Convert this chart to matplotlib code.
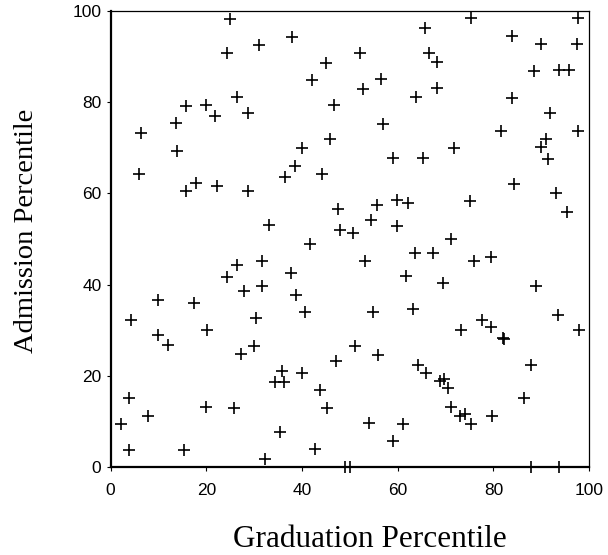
import matplotlib
matplotlib.use("Agg")
import matplotlib.pyplot as plt

# graduation percentile (x) and admission percentile (y)
grad = [24.9, 38.0, 31.0, 24.4, 44.9, 42.0, 26.5, 15.7, 19.9, 46.6, 21.9, 28.6, 13.6, 6.4,
        45.9, 39.9, 13.9, 38.6, 5.9, 36.5, 44.1, 17.8, 15.7, 22.2, 28.6, 47.6, 33.0, 47.9,
        75.4, 97.7, 65.6, 83.9, 89.9, 97.4, 52.1, 66.5, 68.1, 88.5, 93.8, 95.8, 56.6, 52.7,
        68.1, 63.9, 83.9, 91.8, 56.9, 81.5, 97.7, 91.0, 89.9, 71.7, 59.0, 65.3, 91.5, 84.2,
        93.0, 95.4, 75.0, 59.8, 62.1, 55.6, 54.5, 59.8, 50.6, 71.2,
        41.7, 31.6, 26.5, 24.4, 37.6, 31.6, 27.9, 38.7, 9.8, 17.5, 40.7, 4.2, 30.3, 20.1,
        9.8, 11.9, 29.9, 27.2, 47.0, 35.8, 40.0, 34.3, 36.2, 43.8, 3.9, 19.9, 25.8, 45.2,
        7.7, 2.2, 35.4, 3.9, 15.4, 42.8, 32.3,
        63.6, 67.4, 53.1, 75.9, 79.5, 61.8, 69.4, 88.8, 54.8, 63.2, 93.4, 77.7, 79.5, 73.3,
        97.8, 82.0, 82.2, 51.1, 55.9, 64.2, 66.0, 87.8, 68.8, 69.7, 70.5, 86.4, 71.2, 73.1,
        74.0, 75.4, 79.8, 53.9, 61.1, 59.0,
        48.9, 50.0, 87.8, 93.6]
admit = [98.2, 94.3, 92.5, 90.7, 88.5, 84.8, 81.1, 79.1, 79.4, 79.4, 76.9, 77.5, 75.4, 73.3,
         71.8, 70.0, 69.3, 66.0, 64.3, 63.5, 64.3, 62.3, 60.6, 61.6, 60.6, 56.6, 53.0, 52.0,
         98.4, 98.4, 96.1, 94.5, 92.7, 92.7, 90.8, 90.8, 88.8, 86.8, 87.0, 87.0, 85.0, 82.8,
         83.1, 81.1, 80.9, 77.6, 75.1, 73.7, 73.7, 71.9, 70.2, 70.0, 67.8, 67.8, 67.4, 62.1,
         60.0, 55.9, 58.4, 58.6, 57.8, 57.5, 54.2, 52.9, 51.2, 50.0,
         48.9, 45.2, 44.3, 41.6, 42.5, 39.6, 38.5, 37.7, 36.6, 35.9, 34.1, 32.2, 32.6, 30.0,
         28.9, 26.8, 26.5, 24.8, 23.2, 21.0, 20.6, 18.7, 18.7, 16.9, 15.1, 13.2, 12.9, 12.9,
         11.2, 9.5, 7.7, 3.7, 3.7, 4.0, 1.8,
         47.0, 47.0, 45.1, 45.1, 46.1, 41.8, 40.3, 39.6, 34.1, 34.7, 33.3, 32.2, 30.8, 30.0,
         30.0, 28.4, 28.2, 26.5, 24.6, 22.5, 20.6, 22.4, 18.9, 19.3, 17.3, 15.1, 13.1, 11.3,
         11.6, 9.5, 11.2, 9.7, 9.5, 5.8,
         0.0, 0.0, 0.0, 0.0]
ticks = [0, 20, 40, 60, 80, 100]

fig = plt.figure(figsize=(6.08, 5.55), dpi=100)
ax = fig.add_axes([0.182, 0.158, 0.787, 0.823])

ax.plot(grad, admit, linestyle="none", marker="+", markersize=8, markeredgewidth=1.2,
        color="black", clip_on=False)

ax.set_xlim(0, 100)
ax.set_ylim(0, 100)
ax.set_xticks(ticks)
ax.set_yticks(ticks)
ax.tick_params(direction="out", length=3, width=0.8, labelsize=12.5, pad=3.6)
ax.tick_params(axis="x", pad=8)
for lab in ax.get_xticklabels() + ax.get_yticklabels():
    lab.set_family("Liberation Sans")

for s in ["left", "bottom"]:
    ax.spines[s].set_linewidth(1.6)
for s in ["top", "right"]:
    ax.spines[s].set_linewidth(0.9)

ax.set_xlabel("Graduation Percentile", family="Liberation Serif", fontsize=22.5,
              va="baseline")
ax.xaxis.set_label_coords(0.542, -0.1746)
ax.set_ylabel("Admission Percentile", family="Liberation Serif", fontsize=20.5,
              va="baseline")
ax.yaxis.set_label_coords(-0.1623, 0.5175)

fig.savefig("out.png", dpi=100)
